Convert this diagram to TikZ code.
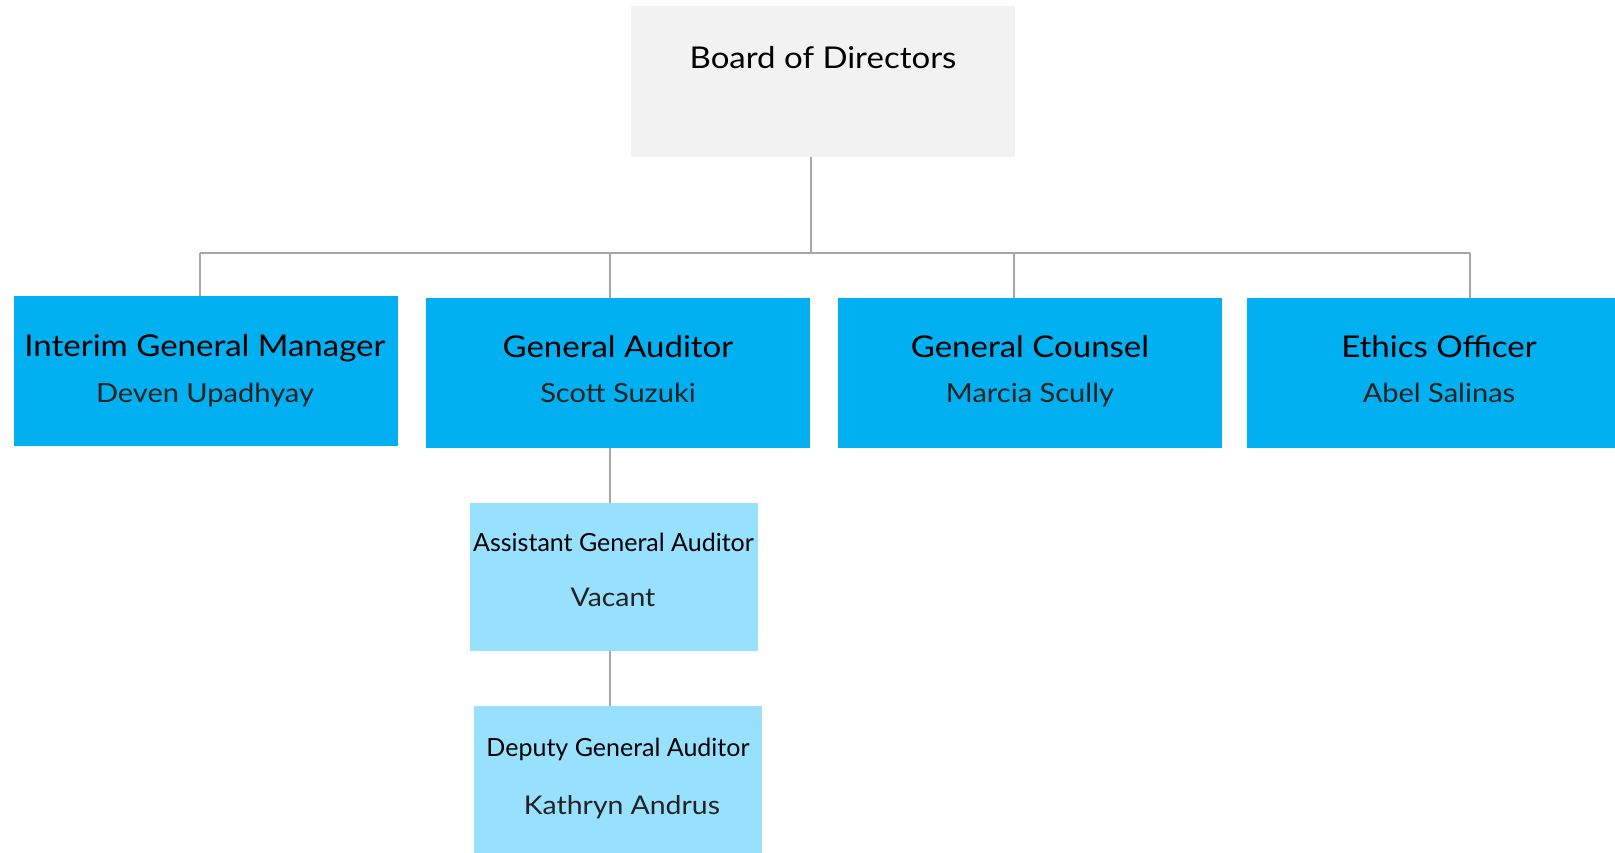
\documentclass[tikz,border=0pt]{standalone}
\usepackage{fontspec}
\setmainfont{Lato}[FakeStretch=1.1]
\newfontfamily\plainlato{Lato}
\definecolor{boardgray}{HTML}{F2F2F2}
\definecolor{mainblue}{HTML}{00B0F0}
\definecolor{lightblue}{HTML}{97E1FF}
\definecolor{linegray}{HTML}{A6A6A6}
\definecolor{nametext}{HTML}{222222}
\tikzset{
 orgbox/.style={rectangle, draw=none, inner sep=0pt, outer sep=0pt},
 topbox/.style={orgbox, fill=boardgray, minimum width=384pt, minimum height=151pt},
 mainbox/.style={orgbox, fill=mainblue, minimum width=384pt, minimum height=150pt},
 subbox/.style={orgbox, fill=lightblue, minimum width=288pt, minimum height=148pt},
 roletext/.style={inner sep=0pt, anchor=base, font=\fontsize{30}{36}\selectfont, text=black},
 persontext/.style={inner sep=0pt, anchor=base, font=\fontsize{26.4}{31}\selectfont, text=nametext},
 subroletext/.style={inner sep=0pt, anchor=base, font=\plainlato\fontsize{25}{30}\selectfont, text=black},
 subpersontext/.style={inner sep=0pt, anchor=base, font=\fontsize{25.8}{31}\selectfont, text=nametext},
 conn/.style={draw=linegray, line width=1.5pt},
}
\begin{document}
\begin{tikzpicture}[x=1pt,y=-1pt]
\path[use as bounding box, clip] (0,0) rectangle (1615,852);
% boxes
\node[topbox]  (board) at (823,81.5) {};
\node[mainbox] (gm) at (205.5,370.5) {};
\node[mainbox] (ga) at (618,372.5) {};
\node[mainbox] (gc) at (1030,372.5) {};
\node[mainbox] (eo) at (1439,372.5) {};
\node[subbox]  (as) at (614,576.5) {};
\node[subbox]  (dp) at (618,780) {};
% texts
\node[roletext] (board-t) at (823,68.8) {Board of Directors};
\node[roletext] (gm-t) at (205,356.8) {Interim General Manager};
\node[persontext]  (gm-n) at (205,402) {Deven Upadhyay};
\node[roletext] (ga-t) at (618,357.8) {General Auditor};
\node[persontext]  (ga-n) at (618,402) {Scott Suzuki};
\node[roletext] (gc-t) at (1030,357.8) {General Counsel};
\node[persontext]  (gc-n) at (1030,402) {Marcia Scully};
\node[roletext] (eo-t) at (1439,357.8) {Ethics Officer};
\node[persontext]  (eo-n) at (1439,402) {Abel Salinas};
\node[subroletext] (as-t) at (613.5,551) {Assistant General Auditor};
\node[subpersontext]  (as-n) at (613,606.4) {Vacant};
\node[subroletext] (dp-t) at (618,756) {Deputy General Auditor};
\node[subpersontext]  (dp-n) at (622,814.4) {Kathryn Andrus};
% connectors
\coordinate (bus) at (811,253);
\coordinate (busL) at (200,253);
\coordinate (busR) at (1470,253);
\draw[conn] (board.south -| bus) -- (bus);
\draw[conn] (busL) -- (busR);
\draw[conn] ([xshift=-5.5pt]gm.north) -- ([xshift=-5.5pt]gm.north |- bus);
\draw[conn] ([xshift=-8pt]ga.north) -- ([xshift=-8pt]ga.north |- bus);
\draw[conn] ([xshift=-16pt]gc.north) -- ([xshift=-16pt]gc.north |- bus);
\draw[conn] ([xshift=31pt]eo.north) -- ([xshift=31pt]eo.north |- bus);
\draw[conn] ([xshift=-8pt]ga.south) -- ([xshift=-4pt]as.north);
\draw[conn] ([xshift=-4pt]as.south) -- ([xshift=-8pt]dp.north);
\end{tikzpicture}
\end{document}
